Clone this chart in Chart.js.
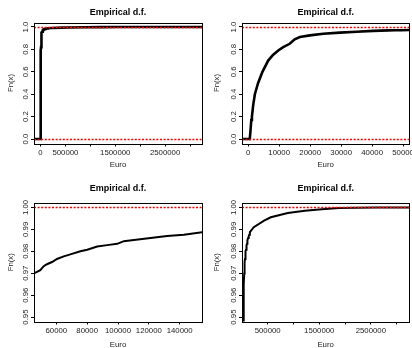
<!DOCTYPE html>
<html lang="en">
<head>
    <meta charset="UTF-8">
    <title>Empirical d.f.</title>
    <script src="https://cdn.jsdelivr.net/npm/chart.js"></script>
</head>
<style>
    body { margin: 0; background: #fff; }
    canvas { position: absolute; }
</style>
<body>
    <canvas id="p1" width="206" height="174" style="left:0;top:0"></canvas>
    <canvas id="p2" width="206" height="174" style="left:206px;top:0"></canvas>
    <canvas id="p3" width="206" height="174" style="left:0;top:174px"></canvas>
    <canvas id="p4" width="206" height="174" style="left:206px;top:174px"></canvas>
</body>
</html>

<script>
    // empirical distribution function
    const euro = [500, 700, 1000, 1200, 1600, 2150, 3200, 4600, 6450, 8000, 9700, 11300, 13400, 15000, 16700,
      19900, 24200, 29600, 35000, 40300, 45300, 47400, 49600, 51800, 53900, 57200, 60400, 64800, 69100,
      75600, 80000, 86500, 93000, 99500, 103800, 110300, 121100, 131900, 142700, 154600, 230000, 430000,
      560000, 890000, 1220000, 1550000, 1880000, 2200000, 2600000, 3115000];
    const fn = [0, 0.06, 0.17, 0.2, 0.3, 0.4, 0.5, 0.6, 0.7, 0.75, 0.79, 0.82, 0.85, 0.89, 0.91,
      0.925, 0.94, 0.95, 0.958, 0.965, 0.9699, 0.9706, 0.9714, 0.9732, 0.9741, 0.9751, 0.9765, 0.9777, 0.9786,
      0.98, 0.9807, 0.9822, 0.9828, 0.9834, 0.9846, 0.9851, 0.9861, 0.987, 0.9875, 0.9887, 0.991, 0.994,
      0.9955, 0.9974, 0.9985, 0.9992, 0.9997, 0.9998, 0.9999, 1.0];

    // axis ticks
    const xTicksA = [0, 500000, 1000000, 1500000, 2000000, 2500000, 3000000];
    const xLabelsA = ['0', '500000', '', '1500000', '', '2500000', ''];
    const xTicksB = [0, 10000, 20000, 30000, 40000, 50000];
    const xLabelsB = ['0', '10000', '20000', '30000', '40000', '50000'];
    const xTicksC = [60000, 80000, 100000, 120000, 140000];
    const xLabelsC = ['60000', '80000', '100000', '120000', '140000'];
    const xTicksD = [500000, 1000000, 1500000, 2000000, 2500000, 3000000];
    const xLabelsD = ['500000', '', '1500000', '', '2500000', ''];
    const yTicksAll = [0, 0.2, 0.4, 0.6, 0.8, 1.0];
    const yTicksTop = [0.95, 0.96, 0.97, 0.98, 0.99, 1.00];

    Chart.defaults.font.family = 'Liberation Sans, Arial, sans-serif';
    Chart.defaults.color = '#222';

    const decor = {
      id: 'decor',
      afterDatasetsDraw(chart, args, opts) {
        const {ctx, chartArea: a, scales} = chart;
        ctx.save();
        ctx.strokeStyle = '#ff0000';
        ctx.lineWidth = 1.3;
        ctx.setLineDash([2, 1.6]);
        opts.hlines.forEach(v => {
          const py = Math.round(scales.y.getPixelForValue(v)) + 0.5;
          ctx.beginPath();
          ctx.moveTo(a.left, py);
          ctx.lineTo(a.right, py);
          ctx.stroke();
        });
        ctx.setLineDash([]);
        ctx.strokeStyle = '#000';
        ctx.lineWidth = 1;
        const l = Math.round(a.left) + 0.5, t = Math.round(a.top) + 0.5;
        ctx.strokeRect(l, t, Math.round(a.right) - Math.round(a.left), Math.round(a.bottom) - Math.round(a.top));
        ctx.restore();
      }
    };

    function panel(id, o) {
      const pts = euro.map((x, i) => ({x: x, y: fn[i]}));
      pts.unshift({x: o.xMin, y: 0});
      pts.push({x: o.xMax, y: 1});
      new Chart(document.getElementById(id), {
        type: 'scatter',
        data: {
          datasets: [{
            data: pts,
            showLine: true,
            borderColor: '#000',
            borderWidth: o.lw,
            pointRadius: 0,
            tension: 0,
            clip: 0
          }]
        },
        options: {
          responsive: false,
          animation: false,
          layout: { padding: { left: 0, right: o.padRight, top: 0, bottom: 0 } },
          plugins: {
            legend: { display: false },
            tooltip: { enabled: false },
            title: {
              display: true,
              text: 'Empirical d.f.',
              fullSize: false,
              color: '#000',
              font: { size: 9, weight: 'bold' },
              padding: { top: o.titleTop, bottom: o.titleBottom }
            },
            decor: { hlines: o.hlines }
          },
          scales: {
            x: {
              type: 'linear',
              min: o.xMin,
              max: o.xMax,
              border: { display: false },
              grid: { drawOnChartArea: false, drawTicks: true, tickLength: 3, color: '#000' },
              afterBuildTicks: ax => { ax.ticks = o.xTicks.map(v => ({value: v})); },
              afterFit: ax => {
                ax.height = o.xHeight;
                ax.paddingLeft = ax.paddingRight = 0;
              },
              ticks: {
                autoSkip: false,
                maxRotation: 0,
                minRotation: 0,
                padding: 2,
                font: { size: 7.8 },
                callback: (v, i) => o.xLabels[i]
              },
              title: { display: true, text: 'Euro', font: { size: 7.8 }, padding: { top: 0, bottom: o.euroPad } }
            },
            y: {
              type: 'linear',
              min: o.yMin,
              max: o.yMax,
              border: { display: false },
              grid: { drawOnChartArea: false, drawTicks: true, tickLength: 3, color: '#000' },
              afterBuildTicks: ax => { ax.ticks = o.yTicks.map(v => ({value: v})); },
              afterFit: ax => {
                ax.width = o.yWidth;
                ax.paddingTop = ax.paddingBottom = 0;
              },
              ticks: {
                autoSkip: false,
                minRotation: 90,
                maxRotation: 90,
                crossAlign: 'center',
                padding: o.yPad,
                font: { size: 7.8 },
                callback: v => v.toFixed(o.yDigits)
              },
              title: { display: true, text: 'Fn(x)', font: { size: 7.8 }, padding: { top: 6, bottom: 0 } }
            }
          }
        },
        plugins: [decor]
      });
    }

    panel('p1', { xMin: -130000, xMax: 3240000, yMin: -0.04, yMax: 1.04, xTicks: xTicksA, xLabels: xLabelsA,
      yTicks: yTicksAll, yDigits: 1, yPad: 0, hlines: [0, 1], lw: 2.6, yWidth: 34, padRight: 4,
      xHeight: 30.5, euroPad: 4.3, titleTop: 7.3, titleBottom: 4.4 });
    panel('p2', { xMin: -2000, xMax: 52000, yMin: -0.04, yMax: 1.04, xTicks: xTicksB, xLabels: xLabelsB,
      yTicks: yTicksAll, yDigits: 1, yPad: 0, hlines: [0, 1], lw: 2.6, yWidth: 36, padRight: 2.7,
      xHeight: 30.5, euroPad: 4.3, titleTop: 7.3, titleBottom: 4.4 });
    panel('p3', { xMin: 45500, xMax: 154500, yMin: 0.948, yMax: 1.002, xTicks: xTicksC, xLabels: xLabelsC,
      yTicks: yTicksTop, yDigits: 2, yPad: -2, hlines: [1], lw: 2, yWidth: 34, padRight: 4,
      xHeight: 26.5, euroPad: -1.2, titleTop: 9.6, titleBottom: 8.6 });
    panel('p4', { xMin: 2000, xMax: 3245000, yMin: 0.948, yMax: 1.002, xTicks: xTicksD, xLabels: xLabelsD,
      yTicks: yTicksTop, yDigits: 2, yPad: -2, hlines: [1], lw: 2, yWidth: 36, padRight: 2.7,
      xHeight: 26.5, euroPad: -1.2, titleTop: 9.6, titleBottom: 8.6 });
</script>
